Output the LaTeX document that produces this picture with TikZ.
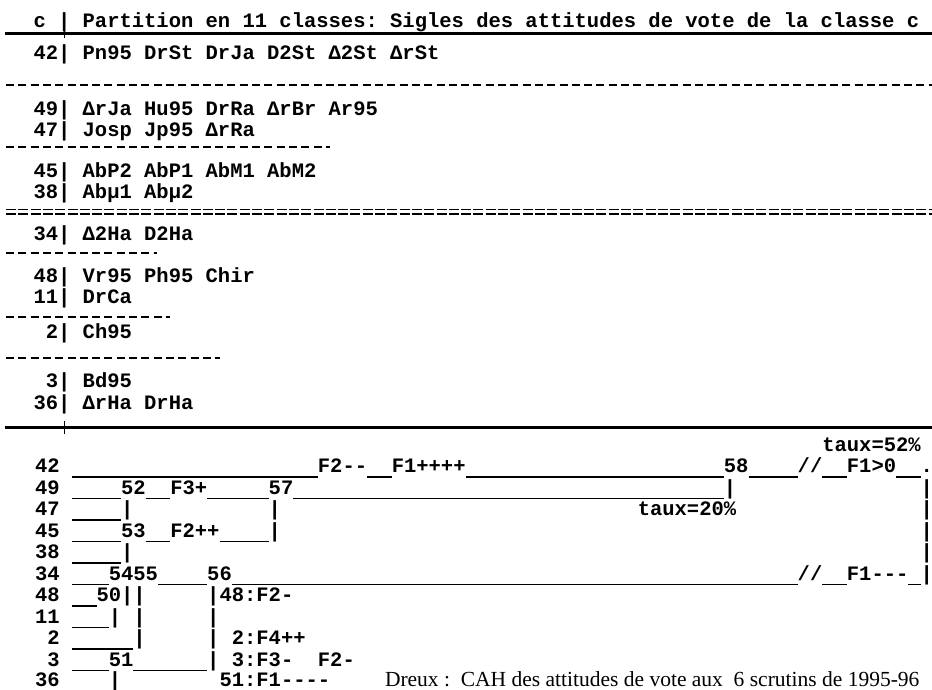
\documentclass[tikz,border=0pt]{standalone}
\usepackage{fontspec}
\setmainfont{Liberation Serif}
\setmonofont{Liberation Mono}
\newlength\cwid
\newcommand\Ul[1]{\settowidth\cwid{0}\rule[-5.2pt]{#1\cwid}{1.3pt}}
\newcommand\Sp[1]{\settowidth\cwid{0}\kern#1\cwid\relax}
\begin{document}
\begin{tikzpicture}[x=1pt,y=-1pt,
  mono/.style={anchor=base west,inner sep=0pt,outer sep=0pt,
    font=\ttfamily\bfseries\fontsize{20.5}{20.5}\selectfont\frenchspacing},
  serif/.style={anchor=base west,inner sep=0pt,outer sep=0pt,
    font=\rmfamily\fontsize{21.5}{21.5}\selectfont},
  thickrule/.style={line width=3pt},
  tickrule/.style={line width=1.3pt},
  dashrule/.style={line width=1.4pt,dash pattern=on 8pt off 4.3pt},
  eqrule/.style={line width=1.2pt,dash pattern=on 10pt off 2.3pt}]
\useasboundingbox[fill=white] (0,0) rectangle (932,689);
% ---------- upper table ----------
\node[mono] (hdr) at (33.5,27) {c | Partition en 11 classes: Sigles des attitudes de vote de la classe c};
\draw[thickrule] (5,33) -- (932,33);
\draw[tickrule] (64.3,28) -- (64.3,38);
\node[mono] (u42) at (33.5,59) {42| Pn95 DrSt DrJa D2St Δ2St ΔrSt};
\draw[dashrule] (6,85) -- (932,85);
\node[mono] (u49) at (33.5,115) {49| ΔrJa Hu95 DrRa ΔrBr Ar95};
\node[mono] (u47) at (33.5,136) {47| Josp Jp95 ΔrRa};
\draw[dashrule] (6,147) -- (330,147);
\node[mono] (u45) at (33.5,177) {45| AbP2 AbP1 AbM1 AbM2};
\node[mono] (u38) at (33.5,198) {38| Abµ1 Abµ2};
\draw[eqrule] (6,209.5) -- (932,209.5);
\draw[eqrule] (6,214) -- (932,214);
\node[mono] (u34) at (33.5,240) {34| Δ2Ha D2Ha};
\draw[dashrule] (6,253) -- (157,253);
\node[mono] (u48) at (33.5,282) {48| Vr95 Ph95 Chir};
\node[mono] (u11) at (33.5,303) {11| DrCa};
\draw[dashrule] (6,317) -- (170,317);
\node[mono] (u2) at (33.5,338) {\Sp{1}2| Ch95};
\draw[dashrule] (6,358) -- (220,358);
\node[mono] (u3) at (33.5,387) {\Sp{1}3| Bd95};
\node[mono] (u36) at (33.5,409) {36| ΔrHa DrHa};
\draw[thickrule] (5,427) -- (932,427);
\draw[tickrule] (64.3,421) -- (64.3,434);
% ---------- dendrogram ----------
\node[mono] (l0) at (35,451) {\Sp{64}taux=52\%};
\node[mono] (l1) at (35,472.5) {42 \Ul{20}F2--\Ul{2}F1++++\Ul{21}58\Ul{4}//\Ul{2}F1>0\Ul{2}.};
\node[mono] (l2) at (35,494) {49 \Ul{4}52\Ul{2}F3+\Ul{5}57\Ul{35}|\Sp{15}|};
\node[mono] (l3) at (35,515.5) {47 \Ul{4}|\Sp{11}|\Sp{29}taux=20\%\Sp{15}|};
\node[mono] (l4) at (35,537) {45 \Ul{4}53\Ul{2}F2++\Ul{4}|\Sp{52}|};
\node[mono] (l5) at (35,558.5) {38 \Ul{4}|\Sp{64}|};
\node[mono] (l6) at (35,580) {34 \Ul{3}5455\Ul{4}56\Ul{46}//\Ul{2}F1---\Ul{1}|};
\node[mono] (l7) at (35,601.5) {48 \Ul{2}50||\Sp{5}|48:F2-};
\node[mono] (l8) at (35,623) {11 \Ul{3}|\Sp{1}|\Sp{5}|};
\node[mono] (l9) at (35,644.5) {\Sp{1}2 \Ul{5}|\Sp{5}|\Sp{1}2:F4++};
\node[mono] (l10) at (35,666) {\Sp{1}3 \Ul{3}51\Ul{6}|\Sp{1}3:F3-\Sp{2}F2-};
\node[mono] (l11) at (35,686.5) {36\Sp{4}|\Sp{8}51:F1----};
\node[serif] (cap) at (385,686.5) {Dreux :\ \ CAH des attitudes de vote aux\ \ 6 scrutins de 1995-96};
\end{tikzpicture}
\end{document}
